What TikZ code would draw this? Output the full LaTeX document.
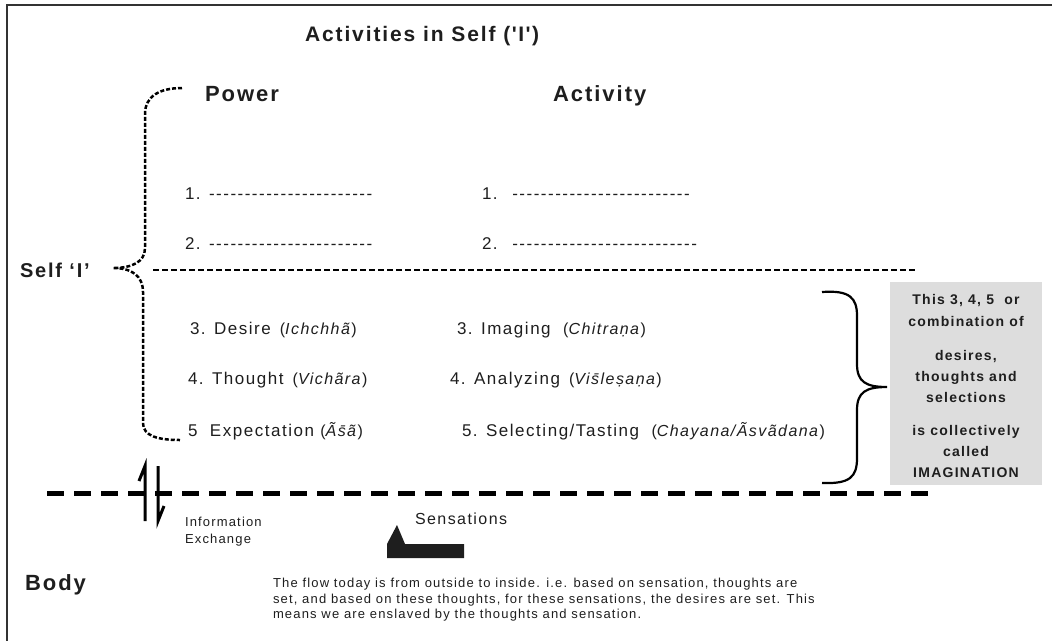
\documentclass[tikz,border=0pt]{standalone}
\usepackage{fontspec}
\setmainfont[LetterSpace=9]{Liberation Sans}
\newcommand\paren[1]{{\fontsize{16}{19}\selectfont(\textit{#1})}}
\newcommand\smacron{s\char"0304\relax}
\newcommand\hyph[1]{\foreach \i in {1,...,#1}{\char"2D\kern1.5pt}}
\newcommand\sq{\kern1.5pt\XeTeXglyph\XeTeXglyphindex "quotesingle"\relax\kern1.5pt}
\definecolor{boxgray}{RGB}{221,221,221}
\definecolor{ink}{RGB}{30,30,30}
\begin{document}
\begin{tikzpicture}[x=1pt,y=-1pt,
  every node/.style={inner sep=0pt,outer sep=0pt,text=ink},
  head/.style={anchor=base west,font=\bfseries\fontsize{22}{26}\selectfont},
  item/.style={anchor=base west,font=\fontsize{17}{20}\selectfont},
  boxtxt/.style={anchor=base,font=\bfseries\fontsize{14}{17}\selectfont},
  small/.style={anchor=base west,font=\fontsize{13}{17}\selectfont},
  para/.style={anchor=base west,font=\fontsize{13}{15.5}\selectfont},
  frame/.style={line width=2.5pt,draw=black!80},
  ldash/.style={line width=2.5pt,dash pattern=on 4pt off 2pt},
  selfline/.style={line width=2.5pt,dash pattern=on 6pt off 3pt},
  bodyline/.style={line width=5pt,dash pattern=on 17pt off 10pt},
  rbrace/.style={line width=2.2pt},
  exch/.style={line width=3pt}]
\useasboundingbox (0,0) rectangle (1052,641);
% frame
\coordinate (f1) at (1052,5);
\coordinate (f2) at (7,5);
\coordinate (f3) at (7,641);
\draw[frame] (f1) -- (f2) -- (f3);
% headings
\node[head,font=\bfseries\fontsize{21}{26}\selectfont] (title) at (305,41) {Activities in Self (\sq I\sq)};
\node[head] (power) at (205,101) {Power};
\node[head] (activity) at (553,101) {Activity};
\node[head,font=\bfseries\fontsize{20}{24}\selectfont] (self) at (20,277) {Self ‘I’};
\node[head] (body) at (25,590) {Body};
% power items
\node[item] (p1) at (185,199) {1. \hyph{23}};
\node[item] (p2) at (185,249) {2. \hyph{23}};
\node[item] (p3) at (190,334) {3. Desire \,\paren{Ichchhã}};
\node[item] (p4) at (188,384) {4. Thought \,\paren{Vichãra}};
\node[item] (p5) at (188,436) {5\ \ Expectation \paren{Ã\smacron ã}};
% activity items
\node[item] (a1) at (482,199) {1. \ \hyph{25}};
\node[item] (a2) at (482,249) {2. \ \hyph{26}};
\node[item] (a3) at (457,334) {3. Imaging \ \paren{Chitraṇa}};
\node[item] (a4) at (450,384) {4. Analyzing \,\paren{Vi\smacron leṣaṇa}};
\node[item] (a5) at (462,436) {5. Selecting/Tasting \ \paren{Chayana/Ãsvãdana}};
% left dashed brace
\coordinate (lb1) at (182,88);
\coordinate (lbtip) at (113,268);
\coordinate (lb2) at (180,440);
\draw[ldash] (lb1) .. controls (160,88) and (145,96) .. (145,114) -- (145,248)
  .. controls (145,262) and (132,268) .. (lbtip)
  .. controls (132,268) and (143,276) .. (143,292) -- (143,423)
  .. controls (143,436) and (158,440) .. (lb2);
% self divider
\coordinate (s1) at (153,270);
\coordinate (s2) at (915,270);
\draw[selfline] (s1) -- (s2);
% right brace
\coordinate (rb1) at (822,292);
\coordinate (rbtip) at (887,387);
\coordinate (rb2) at (822,483);
\draw[rbrace] (rb1) .. controls (850,290) and (857,298) .. (857,316) -- (857,364)
  .. controls (857,382) and (866,387) .. (rbtip)
  .. controls (866,387) and (857,392) .. (857,410) -- (857,458)
  .. controls (857,477) and (850,484) .. (rb2);
% gray box
\node[fill=boxgray,minimum width=152pt,minimum height=203pt,anchor=north west] (gbox) at (890,282) {};
\node[boxtxt] (g1) at (966,304) {This 3, 4, 5\ \ or};
\node[boxtxt] (g2) at (966,326) {combination of};
\node[boxtxt] (g3) at (966,360) {desires,};
\node[boxtxt] (g4) at (966,381) {thoughts and};
\node[boxtxt] (g5) at (966,402) {selections};
\node[boxtxt] (g6) at (966,435) {is collectively};
\node[boxtxt] (g7) at (966,456) {called};
\node[boxtxt] (g8) at (966,477) {IMAGINATION};
% body divider
\coordinate (d1) at (47,493);
\coordinate (d2) at (930,493);
\draw[bodyline] (d1) -- (d2);
% information exchange arrows
\coordinate (xa1) at (145,521);
\coordinate (xa2) at (145,466);
\coordinate (xa3) at (139,481);
\coordinate (xb1) at (158,466);
\coordinate (xb2) at (158,521);
\coordinate (xb3) at (164,506);
\draw[exch] (xa1) -- (xa2) -- (xa3);
\draw[exch] (xb1) -- (xb2) -- (xb3);
\node[small] (info1) at (185,526) {Information};
\node[small] (info2) at (185,543) {Exchange};
% sensations
\node[anchor=base west,font=\fontsize{16}{19}\selectfont] (sens) at (415,524) {Sensations};
\coordinate (k1) at (387,558);
\coordinate (k2) at (387,544);
\coordinate (k3) at (397,525);
\coordinate (k4) at (405,544);
\coordinate (k5) at (464,544);
\coordinate (k6) at (464,558);
\fill[ink] (k1) -- (k2) -- (k3) -- (k4) -- (k5) -- (k6) -- cycle;
% paragraph
\node[para] (flow1) at (273,587) {The flow today is from outside to inside. i.e. based on sensation, thoughts are};
\node[para] (flow2) at (273,603) {set, and based on these thoughts, for these sensations, the desires are set. This};
\node[para] (flow3) at (273,618) {means we are enslaved by the thoughts and sensation.};
\end{tikzpicture}
\end{document}
